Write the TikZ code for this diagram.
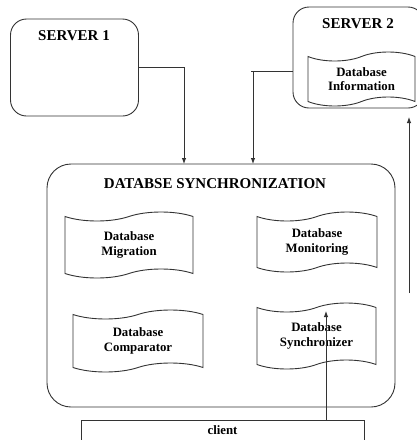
\documentclass[tikz,border=0pt]{standalone}
\usepackage{fontspec}
\setmainfont{Liberation Serif}
\usetikzlibrary{shapes.symbols,arrows.meta}
\begin{document}
\begin{tikzpicture}[x=1pt,y=-1pt,
  line/.style={draw=black!80, line width=0.9pt},
  arr/.style={line, -{Latex[length=6pt,width=4.5pt]}},
  roundbox/.style={line, rounded corners=#1, inner sep=0pt},
  tapebox/.style={tape, line, tape bend top=in and out, tape bend bottom=in and out,
    tape bend height=9pt, align=center, inner sep=0pt,
    font=\bfseries\fontsize{12.8}{14.5}\selectfont},
  head/.style={font=\bfseries\fontsize{15}{17}\selectfont, inner sep=0pt},
  small/.style={font=\bfseries\fontsize{12.8}{14.5}\selectfont, inner sep=0pt}
]
\useasboundingbox[fill=white] (0,0) rectangle (417,440);

% servers
\node[roundbox=16pt, minimum width=128pt, minimum height=97pt] (s1) at (74.5,67.5) {};
\node[head] (s1t) at (74,36) {SERVER 1};
\node[roundbox=16pt, minimum width=131pt, minimum height=101pt] (s2) at (358.5,57.5) {};
\node[head] (s2t) at (358,24) {SERVER 2};
\node[tapebox, minimum width=107pt, minimum height=54pt] (dbi) at (361.5,79) {Database\\Information};

% main block
\node[roundbox=24pt, minimum width=348pt, minimum height=243pt] (main) at (221,285.5) {};
\node[head] (mt) at (215,184) {DATABSE SYNCHRONIZATION};

\node[tapebox, minimum width=128pt, minimum height=66pt] (mig) at (129,245) {Database\\Migration};
\node[tapebox, minimum width=120pt, minimum height=60pt] (mon) at (317,242) {Database\\Monitoring};
\node[tapebox, minimum width=130pt, minimum height=62pt] (cmp) at (138,341) {Database\\Comparator};
\node[tapebox, minimum width=119pt, minimum height=66pt] (syn) at (316.5,336) {Database\\Synchronizer};

% client
\node[line, minimum width=283pt, minimum height=40pt, anchor=north, inner sep=0pt] (client) at (222.5,420) {};
\node[small] (ct) at (222.5,430) {client};

% connectors
\coordinate (m1) at (184,164);
\coordinate (m2) at (253,164);
\coordinate (k2) at (253,71);
\coordinate (c2) at (326,420);
\coordinate (sy) at (326,311);
\coordinate (r1) at (409,293);
\coordinate (r2) at (409,117);

\draw[arr] (s1.east) -| (m1);
\draw[line] (s2.west |- k2) -- ([xshift=-2pt]k2);
\draw[arr] (k2) -- (m2);
\draw[arr] (c2) -- (sy);
\draw[arr] (r1) -- (r2);
\end{tikzpicture}
\end{document}
